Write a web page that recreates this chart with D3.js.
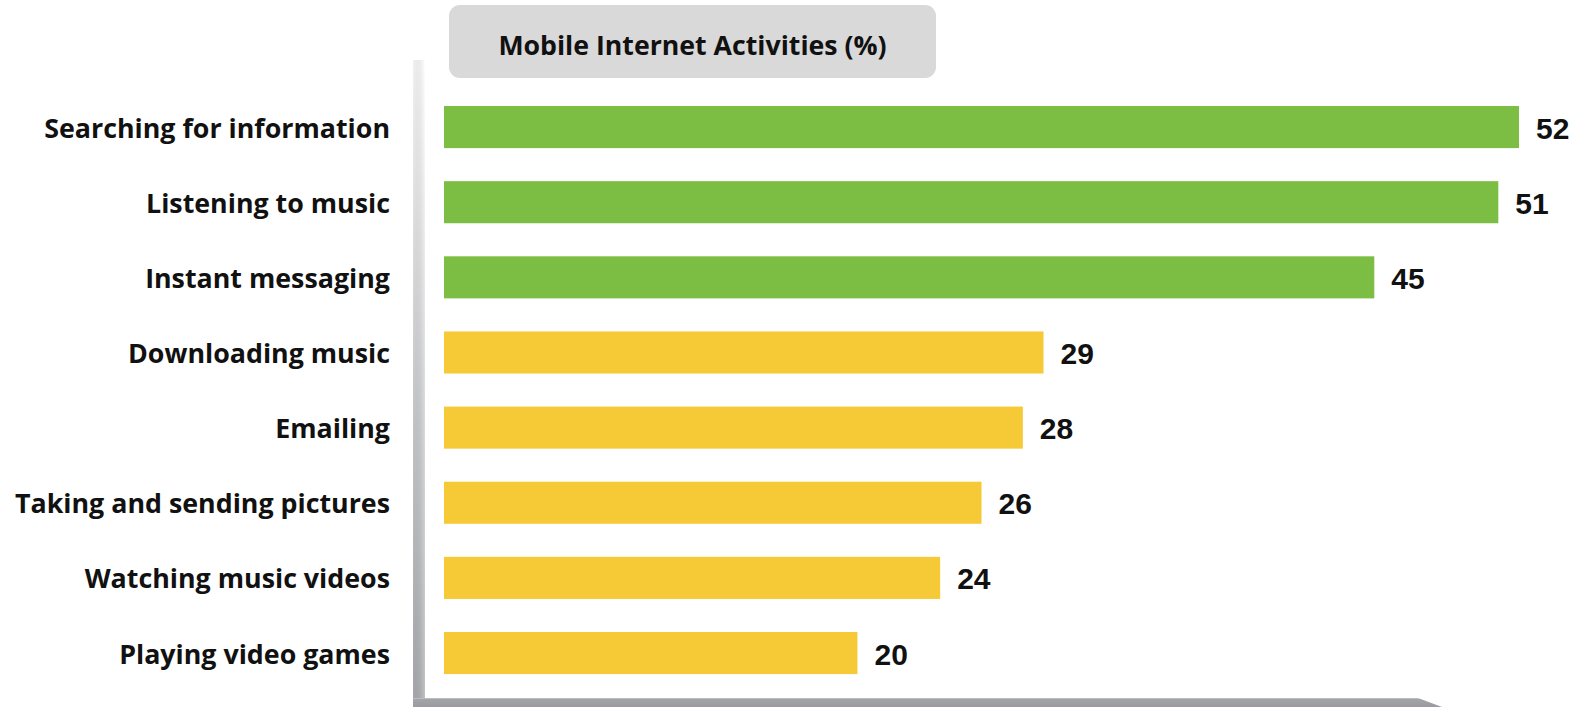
<!DOCTYPE html>
<html>
<head>
<meta charset="utf-8">
<script src="https://cdn.jsdelivr.net/npm/d3@7"></script>
<style>
  html, body { margin: 0; padding: 0; background: #ffffff; }
  svg { display: block; }
</style>
</head>
<body>
<svg id="chart" width="1576" height="707"></svg>
<script>
// Share of mobile internet users doing each activity (%)
const activities = [
  "Searching for information",
  "Listening to music",
  "Instant messaging",
  "Downloading music",
  "Emailing",
  "Taking and sending pictures",
  "Watching music videos",
  "Playing video games"
];
const shares = [52, 51, 45, 29, 28, 26, 24, 20];
const tiers = ["lead", "lead", "lead", "rest", "rest", "rest", "rest", "rest"];
const chartTitle = "Mobile Internet Activities (%)";

const rows = activities.map((name, i) => ({ name, value: shares[i], tier: tiers[i] }));

const svg = d3.select("#chart");
const W = 1576, H = 707;
const labelFont = "'Open Sans', Lato, sans-serif";

const x = d3.scaleLinear().domain([0, 52]).range([444, 1519]);
const y = d3.scaleBand()
  .domain(activities)
  .range([89.5, 690.6])
  .paddingInner(0.44)
  .paddingOuter(0.22);
const color = d3.scaleOrdinal().domain(["lead", "rest"]).range(["#7cbe44", "#f6c937"]);

const defs = svg.append("defs");

// Vertical frame edge: fades out toward the top
const gv = defs.append("linearGradient")
  .attr("id", "frameV").attr("x1", 0).attr("y1", 0).attr("x2", 0).attr("y2", 1);
gv.append("stop").attr("offset", "0%").attr("stop-color", "#ffffff");
gv.append("stop").attr("offset", "20%").attr("stop-color", "#f0f0f1");
gv.append("stop").attr("offset", "55%").attr("stop-color", "#cfd0d2");
gv.append("stop").attr("offset", "100%").attr("stop-color", "#adaeb1");

const gvs = defs.append("linearGradient")
  .attr("id", "frameVShade").attr("x1", 0).attr("y1", 0).attr("x2", 1).attr("y2", 0);
gvs.append("stop").attr("offset", "0%").attr("stop-color", "#000").attr("stop-opacity", 0.05);
gvs.append("stop").attr("offset", "100%").attr("stop-color", "#fff").attr("stop-opacity", 0.25);

// Horizontal frame edge
const gh = defs.append("linearGradient")
  .attr("id", "frameH").attr("x1", 0).attr("y1", 0).attr("x2", 0).attr("y2", 1);
gh.append("stop").attr("offset", "0%").attr("stop-color", "#c9cacc");
gh.append("stop").attr("offset", "15%").attr("stop-color", "#a3a4a7");
gh.append("stop").attr("offset", "100%").attr("stop-color", "#9a9b9e");

// L-shaped frame around the plot
svg.append("rect")
  .attr("x", 413).attr("y", 60).attr("width", 12).attr("height", H - 60)
  .attr("fill", "url(#frameV)");
svg.append("rect")
  .attr("x", 413).attr("y", 60).attr("width", 12).attr("height", H - 60)
  .attr("fill", "url(#frameVShade)");
svg.append("path")
  .attr("d", `M413,698 L1418,698 L1442,${H} L413,${H} Z`)
  .attr("fill", "url(#frameH)");

// Title box
svg.append("rect")
  .attr("x", 449).attr("y", 5).attr("width", 487).attr("height", 73)
  .attr("rx", 11).attr("ry", 11)
  .attr("fill", "#d9d9d9");
svg.append("text")
  .attr("x", 692.5).attr("y", 44)
  .attr("text-anchor", "middle")
  .attr("dominant-baseline", "central")
  .attr("font-family", labelFont)
  .attr("font-weight", 700)
  .attr("font-size", 26.7)
  .attr("fill", "#111")
  .text(chartTitle);

// Bars
svg.append("g").selectAll("rect")
  .data(rows)
  .join("rect")
  .attr("x", x(0))
  .attr("y", d => y(d.name))
  .attr("width", d => x(d.value) - x(0))
  .attr("height", y.bandwidth())
  .attr("fill", d => color(d.tier));

// Category labels
svg.append("g").selectAll("text")
  .data(rows)
  .join("text")
  .attr("x", 390)
  .attr("y", d => y(d.name) + y.bandwidth() / 2)
  .attr("text-anchor", "end")
  .attr("dominant-baseline", "central")
  .attr("font-family", labelFont)
  .attr("font-weight", 700)
  .attr("font-size", 26.8)
  .attr("fill", "#111")
  .text(d => d.name);

// Value labels
svg.append("g").selectAll("text")
  .data(rows)
  .join("text")
  .attr("x", d => x(d.value) + 17)
  .attr("y", d => y(d.name) + y.bandwidth() / 2 + 1)
  .attr("dominant-baseline", "central")
  .attr("font-family", "'Liberation Sans', Arial, sans-serif")
  .attr("font-weight", 700)
  .attr("font-size", 30)
  .attr("fill", "#111")
  .text(d => d.value);
</script>
</body>
</html>
